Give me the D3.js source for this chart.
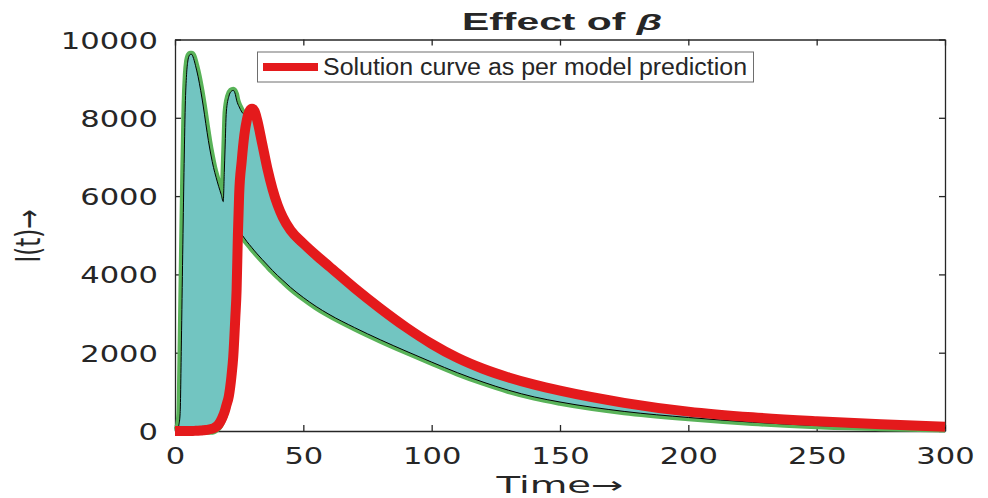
<html>
<head>
<style>
  body { margin: 0; background: #fff; }
  svg { display: block; }
  text { font-family: "DejaVu Sans", sans-serif; fill: #262626; }
</style>
</head>
<body>
<svg id="chart" width="988" height="498"></svg>
<script src="https://cdnjs.cloudflare.com/ajax/libs/d3/7.8.5/d3.min.js"></script>
<script>
// time grid (days) and the three curves
var tDays  = [0, 1, 1.5, 2, 2.5, 3, 3.5, 4, 4.5, 5, 5.5, 6, 6.5, 7, 8, 9, 10, 11, 12, 13,
              14, 15, 16, 17, 18, 18.8, 19.2, 19.5, 20, 21, 22, 22.7, 23.5, 24, 24.5, 25,
              26, 27, 28, 29, 30, 31, 32, 34, 36, 38, 40, 42, 45, 50, 55, 60, 70, 80, 90, 100,
              110, 120, 130, 140, 150, 175, 200, 225, 250, 275, 300];
// upper edge of the beta band
var upperI = [0, 40, 150, 450, 2300, 4500, 6600, 8300, 9100, 9450, 9580, 9620, 9620, 9560, 9330, 9050, 8700, 8300, 7850, 7420,
              7050, 6730, 6480, 6250, 6040, 5860, 6600, 7200, 8150, 8550, 8680, 8700, 8600, 8450, 8350, 8280,
              8150, 8080, 8050, 8100, 8100, 8050, 7800, 7120, 6500, 5990, 5600, 5300, 4980, 4650, 4355, 4085, 3540, 3035, 2570, 2160,
              1815, 1540, 1325, 1148, 998, 698, 480, 340, 243, 165, 106];
// lower edge of the beta band
var lowerI = [0, 0, 0, 0, 0, 0, 0, 0, 0, 0, 0, 0, 0, 0, 0, 0, 0, 0, 0, 0,
              0, 10, 50, 110, 220, 340, 410, 470, 590, 840, 1340, 1840, 3600, 5200, 5150, 5110,
              5020, 4930, 4840, 4760, 4680, 4600, 4525, 4380, 4240, 4100, 3970, 3850, 3670, 3410, 3180, 2980, 2640, 2330, 2040, 1760,
              1490, 1250, 1040, 870, 740, 500, 345, 225, 140, 90, 55];
// solution curve as per model prediction
var modelI = [0, 0, 0, 0, 0, 0, 0, 0, 0, 0, 0, 0, 0, 0, 5, 8, 12, 18, 25, 35,
              50, 70, 110, 170, 280, 400, 470, 530, 650, 900, 1400, 1900, 2900, 3600, 5000, 6050,
              6900, 7550, 7950, 8170, 8230, 8170, 7950, 7330, 6700, 6180, 5770, 5460, 5130, 4790, 4490, 4210, 3650, 3130, 2650, 2226,
              1870, 1590, 1367, 1183, 1029, 720, 495, 350, 250, 170, 110];

var xTicks = [0, 50, 100, 150, 200, 250, 300];
var yTicks = [0, 2000, 4000, 6000, 8000, 10000];

var plotL = 175, plotR = 945, plotT = 39.5, plotB = 431;
var svg = d3.select("#chart");

var x = d3.scaleLinear().domain([0, 300]).range([plotL, plotR]);
var y = d3.scaleLinear().domain([0, 10000]).range([plotB, plotT]);

var rows = tDays.map(function(t, i) {
    return {t: t, hi: upperI[i], lo: lowerI[i], m: modelI[i]};
});

// axes (drawn below the data like matlab)
function styleAxis(g) {
    g.selectAll(".domain").attr("stroke", "#262626").attr("stroke-width", 1.3);
    g.selectAll(".tick line").attr("stroke", "#262626").attr("stroke-width", 1.3);
    g.selectAll("text").attr("fill", "#262626").style("font-size", "23px")
        .style("font-family", "DejaVu Sans");
}
var fmt = d3.format("d");
var gx = svg.append("g").attr("transform", "translate(0," + plotB + ")")
    .call(d3.axisBottom(x).tickValues(xTicks).tickFormat(fmt).tickSizeInner(-6).tickSizeOuter(0).tickPadding(17))
    .call(styleAxis);
gx.selectAll("text").style("transform-box", "fill-box").style("transform-origin", "center")
    .style("transform", "scaleX(1.33)");
var gy = svg.append("g").attr("transform", "translate(" + plotL + ",0)")
    .call(d3.axisLeft(y).tickValues(yTicks).tickFormat(fmt).tickSizeInner(-6).tickSizeOuter(0).tickPadding(17))
    .call(styleAxis);
gy.selectAll("text").attr("dy", "0.37em").style("transform-box", "fill-box")
    .style("transform-origin", "right center").style("transform", "scaleX(1.33)");
svg.append("g").attr("transform", "translate(0," + plotT + ")")
    .call(d3.axisTop(x).tickValues(xTicks).tickSizeInner(-6).tickSizeOuter(0).tickFormat(""))
    .call(styleAxis);
svg.append("g").attr("transform", "translate(" + plotR + ",0)")
    .call(d3.axisRight(y).tickValues(yTicks).tickSizeInner(-6).tickSizeOuter(0).tickFormat(""))
    .call(styleAxis);

var curve = d3.curveMonotoneX;
var upperLine = d3.line().x(function(d) { return x(d.t); }).y(function(d) { return y(d.hi); }).curve(curve);
var lowerLine = d3.line().x(function(d) { return x(d.t); }).y(function(d) { return y(d.lo); }).curve(curve);
var modelLine = d3.line().x(function(d) { return x(d.t); }).y(function(d) { return y(d.m); }).curve(curve);
var band = d3.area().x(function(d) { return x(d.t); })
    .y0(function(d) { return y(d.lo); }).y1(function(d) { return y(d.hi); }).curve(curve);

// green envelope curves
[upperLine, lowerLine].forEach(function(l) {
    svg.append("path").datum(rows).attr("d", l)
        .attr("fill", "none").attr("stroke", "#59b359").attr("stroke-width", 7.5)
        .attr("stroke-linejoin", "round");
});

// shaded band
svg.append("path").datum(rows).attr("d", band)
    .attr("fill", "#72c5c1").attr("stroke", "#000").attr("stroke-width", 1);

// model curve
svg.append("path").datum(rows).attr("d", modelLine)
    .attr("fill", "none").attr("stroke", "#e41a1c").attr("stroke-width", 10)
    .attr("stroke-linejoin", "round");

// title
var title = svg.append("text").attr("x", 562).attr("y", 30).attr("text-anchor", "middle")
    .style("font-family", "Liberation Sans").style("font-weight", "bold").style("font-size", "23px")
    .attr("fill", "#000").attr("textLength", 200).attr("lengthAdjust", "spacingAndGlyphs");
title.append("tspan").text("Effect of ");
title.append("tspan").style("font-style", "italic").text("\u03B2");

// axis labels
svg.append("text").attr("x", 560).attr("y", 493).attr("text-anchor", "middle")
    .style("font-size", "23px").attr("textLength", 127).attr("lengthAdjust", "spacingAndGlyphs")
    .text("Time\u2192");
svg.append("text").attr("transform", "translate(40,236) scale(1.45,1) rotate(-90)")
    .attr("text-anchor", "middle").style("font-size", "23px")
    .text("I(t)\u2192");

// legend
var lg = svg.append("g");
lg.append("rect").attr("x", 257.5).attr("y", 52).attr("width", 496).attr("height", 30)
    .attr("fill", "#fff").attr("stroke", "#6e6e6e").attr("stroke-width", 1);
lg.append("line").attr("x1", 263).attr("x2", 318).attr("y1", 67).attr("y2", 67)
    .attr("stroke", "#e41a1c").attr("stroke-width", 8);
lg.append("text").attr("x", 323).attr("y", 74.5)
    .style("font-family", "Liberation Sans").style("font-size", "23px").attr("fill", "#000")
    .attr("textLength", 424).attr("lengthAdjust", "spacingAndGlyphs")
    .text("Solution curve as per model prediction");
</script>
</body>
</html>
